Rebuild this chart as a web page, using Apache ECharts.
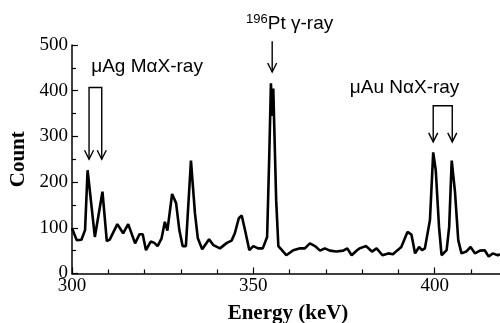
<!DOCTYPE html>
<html>
<head>
<meta charset="utf-8">
<script src="https://cdn.jsdelivr.net/npm/echarts@6/dist/echarts.min.js"></script>
<style>
  html, body { margin: 0; padding: 0; background: #fff; }
  #chart { width: 500px; height: 323px; }
</style>
</head>
<body>
<div id="chart"></div>
<script>
// spectrum (keV, counts)
const energy = [
  300, 301.3, 302.6, 303.6, 304.3, 306.3, 308.4, 309.6, 310.4, 312.5,
  314.1, 315.5, 317.4, 318.6, 319.5, 320.4, 321.7, 322.7, 323.6, 324.7,
  325.6, 326.3, 327.6, 328.7, 329.6, 330.5, 331.4, 332.8, 333.9, 334.7,
  335.9, 337.8, 339.0, 340.8, 342.7, 344.0, 344.9, 346.0, 346.8, 347.7,
  348.9, 350.0, 351.3, 352.6, 353.8, 354.4, 354.85, 355.2, 355.5, 356.3,
  356.9, 359.1, 361.0, 362.9, 364.2, 365.6, 367.0, 368.4, 369.7, 371.1,
  372.9, 374.8, 375.9, 377.1, 378.6, 379.3, 381.1, 382.7, 384.0, 385.6,
  387.2, 388.5, 389.6, 390.8, 392.5, 393.6, 394.6, 395.7, 396.5, 397.3,
  398.7, 399.6, 400.3, 401.2, 401.9, 403.3, 404.0, 404.7, 405.6, 406.5,
  407.4, 408.7, 409.9, 411.1, 412.5, 413.8, 414.9, 416.0, 417.4, 418
]
const counts = [
  99, 73, 74, 95, 226, 80, 179, 71, 74, 108,
  88, 108, 66, 86, 86, 51, 70, 67, 60, 77,
  113, 94, 174, 154, 95, 60, 60, 247, 132, 77,
  53, 75, 62, 55, 67, 72, 88, 121, 127, 95,
  51, 60, 55, 55, 80, 260, 416, 345, 405, 160,
  60, 40, 51, 55, 55, 66, 60, 50, 55, 50,
  48, 50, 55, 40, 51, 55, 60, 48, 55, 40,
  44, 42, 50, 58, 91, 85, 44, 58, 51, 55,
  117, 265, 226, 102, 40, 51, 102, 247, 179, 73,
  44, 48, 58, 44, 50, 51, 37, 44, 40, 42
]

const xTicks = [300, 350, 400]
const yTicks = [0, 100, 200, 300, 400, 500]

// annotation anchors in data units
const agBracket = [[304.7, 250], [304.7, 407], [308.2, 407], [308.2, 250]]
const auBracket = [[399.6, 288], [399.6, 367], [404.85, 367], [404.85, 288]]
const ptArrow = [[355.2, 508], [355.2, 441]]
const notes = [
  { text: 'μAg MαX-ray', at: [305.3, 452] },
  { text: '{sup|196}Pt γ-ray', at: [348.0, 546] },
  { text: 'μAu NαX-ray', at: [376.6, 406] }
]

const chart = echarts.init(document.getElementById('chart'))

const serifFont = '"Liberation Serif", "DejaVu Serif", serif'
const sansFont = '"Liberation Sans", Arial, sans-serif'

chart.setOption({
  animation: false,
  grid: { left: 72, top: 45, width: 544, bottom: 49.5, outerBoundsMode: 'none', containLabel: false },
  xAxis: {
    type: 'value',
    min: 300,
    max: 450,
    interval: 50,
    name: 'Energy (keV)',
    nameLocation: 'middle',
    nameGap: 30,
    nameTextStyle: {
      fontFamily: serifFont, fontWeight: 'bold', fontSize: 21, color: '#000',
      padding: [0, 112, 0, 0]
    },
    axisLine: { lineStyle: { color: '#000', width: 1.5 } },
    axisTick: { inside: true, length: 6, lineStyle: { color: '#000', width: 1.2 } },
    minorTick: { show: true, splitNumber: 5, length: 4, lineStyle: { color: '#000', width: 1.2 } },
    axisLabel: {
      fontFamily: serifFont, fontSize: 19, color: '#000', margin: 3,
      formatter: v => xTicks.includes(v) ? String(v) : ''
    },
    splitLine: { show: false }
  },
  yAxis: {
    type: 'value',
    min: 0,
    max: 500,
    interval: 100,
    name: 'Count',
    nameLocation: 'middle',
    nameGap: 37,
    nameTextStyle: { fontFamily: serifFont, fontWeight: 'bold', fontSize: 21, color: '#000' },
    axisLine: { show: true, lineStyle: { color: '#000', width: 1.5 } },
    axisTick: { show: true, inside: true, length: 6, lineStyle: { color: '#000', width: 1.2 } },
    minorTick: { show: true, splitNumber: 2, length: 4, lineStyle: { color: '#000', width: 1.2 } },
    axisLabel: {
      fontFamily: serifFont, fontSize: 19, color: '#000', margin: 4,
      formatter: v => yTicks.includes(v) ? String(v) : ''
    },
    splitLine: { show: false }
  },
  series: [{
    type: 'line',
    data: energy.map((e, i) => [e, counts[i]]),
    showSymbol: false,
    lineStyle: { color: '#000', width: 2.6 },
    clip: false
  }]
})

// arrows and labels placed through the chart's own scales
const px = p => chart.convertToPixel({ gridIndex: 0 }, p)
const stroke = { stroke: '#000', lineWidth: 1.4, fill: null }

function head(tip) {
  const [x, y] = px(tip)
  return { type: 'polyline', shape: { points: [[x - 4.5, y - 9], [x, y], [x + 4.5, y - 9]] }, style: stroke, z: 10 }
}

const graphics = []
;[agBracket, auBracket].forEach(b => {
  graphics.push({ type: 'polyline', shape: { points: b.map(px) }, style: stroke, z: 10 })
  graphics.push(head(b[0]), head(b[3]))
})
graphics.push({ type: 'polyline', shape: { points: ptArrow.map(px) }, style: stroke, z: 10 })
graphics.push(head(ptArrow[1]))

notes.forEach(n => {
  const [x, y] = px(n.at)
  graphics.push({
    type: 'text',
    x: x, y: y,
    style: {
      text: n.text,
      fontFamily: sansFont,
      fontSize: 19,
      fill: '#000',
      align: 'left',
      verticalAlign: 'middle',
      rich: {
        sup: { fontSize: 13, fontFamily: sansFont, verticalAlign: 'top', padding: [0, 0, 9, 0] }
      }
    },
    z: 10
  })
})

chart.setOption({ graphic: graphics })
</script>
</body>
</html>
